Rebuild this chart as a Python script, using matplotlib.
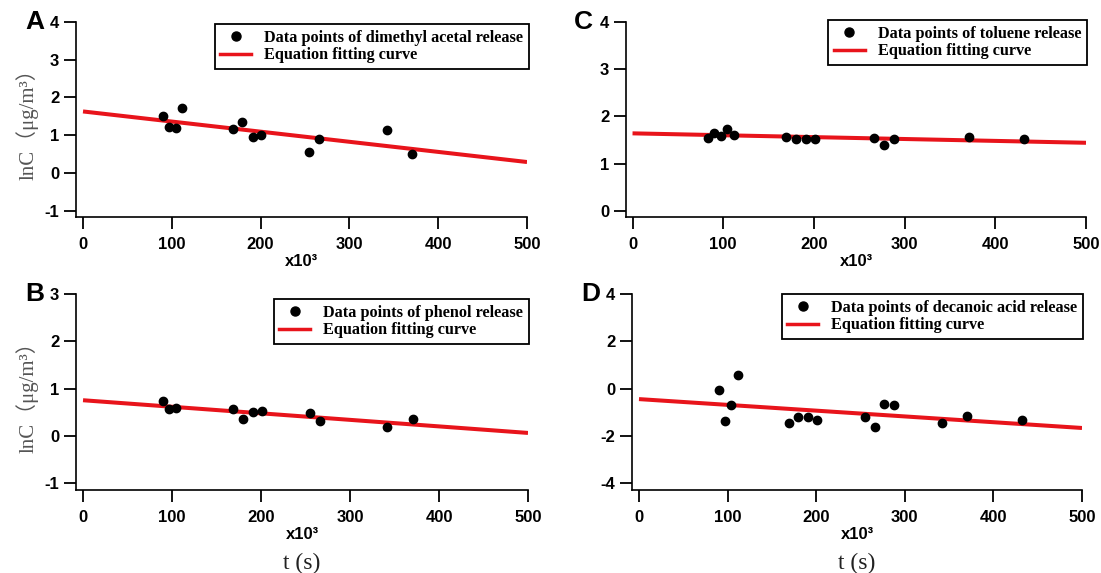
import matplotlib

matplotlib.use("Agg")
import matplotlib.pyplot as plt
from matplotlib.lines import Line2D

W, H = 1101, 573

# time in units of 10^3 s
t_a = [89.9, 97.0, 104.5, 111.0, 168.8, 179.4, 190.9, 201.0, 254.7, 265.8, 341.9, 370.7]
lnc_a = [1.51, 1.22, 1.19, 1.73, 1.16, 1.34, 0.94, 1.00, 0.56, 0.90, 1.15, 0.51]
fit_a = [1.63, 0.29]

t_b = [89.9, 97.0, 104.1, 168.8, 179.4, 190.5, 201.0, 255.1, 265.8, 341.9, 370.7]
lnc_b = [0.73, 0.58, 0.59, 0.56, 0.35, 0.51, 0.53, 0.49, 0.31, 0.18, 0.36]
fit_b = [0.755, 0.064]

t_c = [83.2, 89.8, 97.5, 104.5, 111.5, 169.5, 180.0, 190.8, 201.6, 266.6, 277.0, 287.9, 370.7, 431.9]
lnc_c = [1.55, 1.65, 1.58, 1.74, 1.61, 1.57, 1.53, 1.52, 1.52, 1.55, 1.40, 1.51, 1.57, 1.51]
fit_c = [1.64, 1.44]

t_d = [89.8, 96.9, 104.0, 111.6, 169.3, 180.0, 191.0, 201.3, 255.5, 266.2, 276.9, 288.0,
       342.2, 370.6, 432.4]
lnc_d = [-0.07, -1.37, -0.68, 0.58, -1.44, -1.20, -1.18, -1.34, -1.18, -1.61, -0.65, -0.68,
         -1.45, -1.15, -1.32]
fit_d = [-0.44, -1.66]

fit_t = [0, 500]

labels = {
    "A": "Data points of dimethyl acetal release",
    "B": "Data points of phenol release",
    "C": "Data points of toluene release",
    "D": "Data points of decanoic acid release",
}
fit_label = "Equation fitting curve"

RED = "#e8141b"
SERIF = ["Liberation Serif", "Noto Sans CJK SC"]

plt.rcParams["font.family"] = ["Liberation Sans", "DejaVu Sans"]
plt.rcParams["axes.unicode_minus"] = False


def make_axes(fig, left, right, top, bottom):
    return fig.add_axes([left / W, 1 - bottom / H, (right - left) / W, (bottom - top) / H])


def panel(fig, box, t, lnc, fit, letter, ylim, yticks, xmin, leg_anchor, bottom_row, ylabel):
    ax = make_axes(fig, *box)
    ax.plot(fit_t, fit, color=RED, lw=2.9, solid_capstyle="butt", zorder=2)
    ax.plot(t, lnc, "o", color="black", ms=6, zorder=3)

    ax.set_xlim(xmin, 500)
    ax.set_ylim(*ylim)
    ax.set_xticks([0, 100, 200, 300, 400, 500])
    ax.set_yticks(yticks)
    for s in ("top", "right"):
        ax.spines[s].set_visible(False)
    for s in ("left", "bottom"):
        ax.spines[s].set_linewidth(1.2)
    ax.tick_params(axis="both", direction="out", length=8.5, width=1.3,
                   labelsize=12)
    ax.tick_params(axis="x", pad=6)
    ax.tick_params(axis="y", pad=3.5)
    for lab in ax.get_xticklabels() + ax.get_yticklabels():
        lab.set_fontweight("bold")

    ax.set_xlabel("x10³", fontsize=12, fontweight="bold", labelpad=1)
    if bottom_row:
        ax.text(0.5, -0.375, "t (s)", transform=ax.transAxes, ha="center", va="center",
                fontsize=17, family="Liberation Serif", color="#222222")
    if ylabel:
        fig.text(27 / W, 1 - ((box[2] + box[3]) / 2) / H, "lnC（μg/m³）", rotation=90,
                 ha="center", va="center", fontsize=15, family=SERIF, color="#555555")

    ax.text(-0.092, 1.0, letter, transform=ax.transAxes, ha="center", va="center",
            fontsize=19, fontweight="bold")

    handles = [
        Line2D([], [], ls="none", marker="o", color="black", ms=6.5),
        Line2D([], [], color=RED, lw=2.5),
    ]
    leg = ax.legend(handles, [labels[letter], fit_label], loc="upper right",
                    bbox_to_anchor=leg_anchor, borderaxespad=0, fancybox=False,
                    framealpha=1, edgecolor="black", handlelength=1.9,
                    handletextpad=0.8, labelspacing=0.1, borderpad=0.35,
                    prop={"family": "Liberation Serif", "weight": "bold", "size": 11.7})
    leg.get_frame().set_linewidth(1.3)
    return ax


def main():
    fig = plt.figure(figsize=(W / 100, H / 100), dpi=100)

    panel(fig, (76, 527, 22, 217), t_a, lnc_a, fit_a, "A", (-1.167, 4), [-1, 0, 1, 2, 3, 4],
          -7.9, (1.004, 0.99), False, True)
    panel(fig, (626, 1086, 22, 217), t_c, lnc_c, fit_c, "C", (-0.133, 4), [0, 1, 2, 3, 4],
          -7.2, (1.002, 1.01), False, False)
    panel(fig, (76, 528, 294, 490), t_b, lnc_b, fit_b, "B", (-1.142, 3), [-1, 0, 1, 2, 3],
          -7.9, (1.002, 0.974), True, True)
    panel(fig, (632, 1082, 294, 490), t_d, lnc_d, fit_d, "D", (-4.28, 4), [-4, -2, 0, 2, 4],
          -7.9, (1.002, 1.0), True, False)

    fig.savefig("out.png", dpi=100)


if __name__ == "__main__":
    main()
